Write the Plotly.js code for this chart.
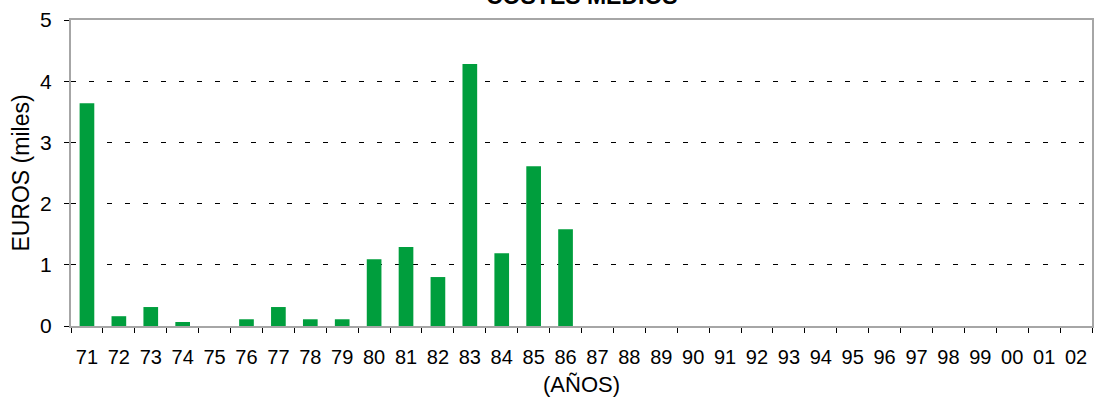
<!DOCTYPE html>
<html>
<head>
<meta charset="utf-8">
<script src="https://cdn.plot.ly/plotly-3.0.1.min.js"></script>
<style>html,body{margin:0;padding:0;background:#fff;}#chart{width:1094px;height:401px;}</style>
</head>
<body>
<div id="chart"></div>
<script>
const years = ["71","72","73","74","75","76","77","78","79","80","81","82","83","84","85","86","87","88","89","90","91","92","93","94","95","96","97","98","99","00","01","02"];
const costes = [3.64,0.16,0.31,0.065,0,0.11,0.31,0.11,0.11,1.09,1.29,0.80,4.28,1.19,2.61,1.58,0,0,0,0,0,0,0,0,0,0,0,0,0,0,0,0];
const chartTitle = 'COSTES MEDIOS';

const trace = {
  type: 'bar',
  x: years,
  y: costes,
  marker: {color: '#009E3D'},
  hoverinfo: 'x+y'
};

const layout = {
  width: 1094, height: 401,
  margin: {l: 71, r: 2, t: 20, b: 75, pad: 0},
  paper_bgcolor: '#ffffff', plot_bgcolor: '#ffffff',
  font: {family: 'Liberation Sans, Arial, sans-serif', color: '#000000'},
  annotations: [{
    text: '<b>' + chartTitle + '</b>',
    xref: 'paper', yref: 'paper',
    x: 0.5, xanchor: 'center',
    y: 1.078, yanchor: 'middle',
    showarrow: false,
    font: {size: 23, color: '#000000'}
  }],
  bargap: 0.54,
  showlegend: false,
  xaxis: {
    type: 'category',
    tickson: 'boundaries',
    tickangle: 0,
    ticks: 'outside', ticklen: 5, tickwidth: 1, tickcolor: '#000000',
    showline: true, linecolor: '#a6a6a6', linewidth: 2, mirror: true,
    showgrid: false,
    tickfont: {size: 20},
    ticklabelstandoff: 12,
    automargin: false,
    title: {text: '(AÑOS)', font: {size: 22}, standoff: 10}
  },
  yaxis: {
    range: [0, 5],
    tickvals: [0,1,2,3,4,5],
    ticks: 'outside', ticklen: 5, tickwidth: 1, tickcolor: '#000000',
    showline: true, linecolor: '#a6a6a6', linewidth: 2, mirror: true,
    showgrid: true, gridcolor: '#000000', gridwidth: 1, griddash: '5px,13px',
    zeroline: false,
    tickfont: {size: 21},
    ticklabelstandoff: 8,
    automargin: false,
    title: {text: 'EUROS (miles)', font: {size: 23}, standoff: 4}
  }
};

Plotly.newPlot('chart', [trace], layout, {displayModeBar: false, staticPlot: true});
</script>
</body>
</html>
